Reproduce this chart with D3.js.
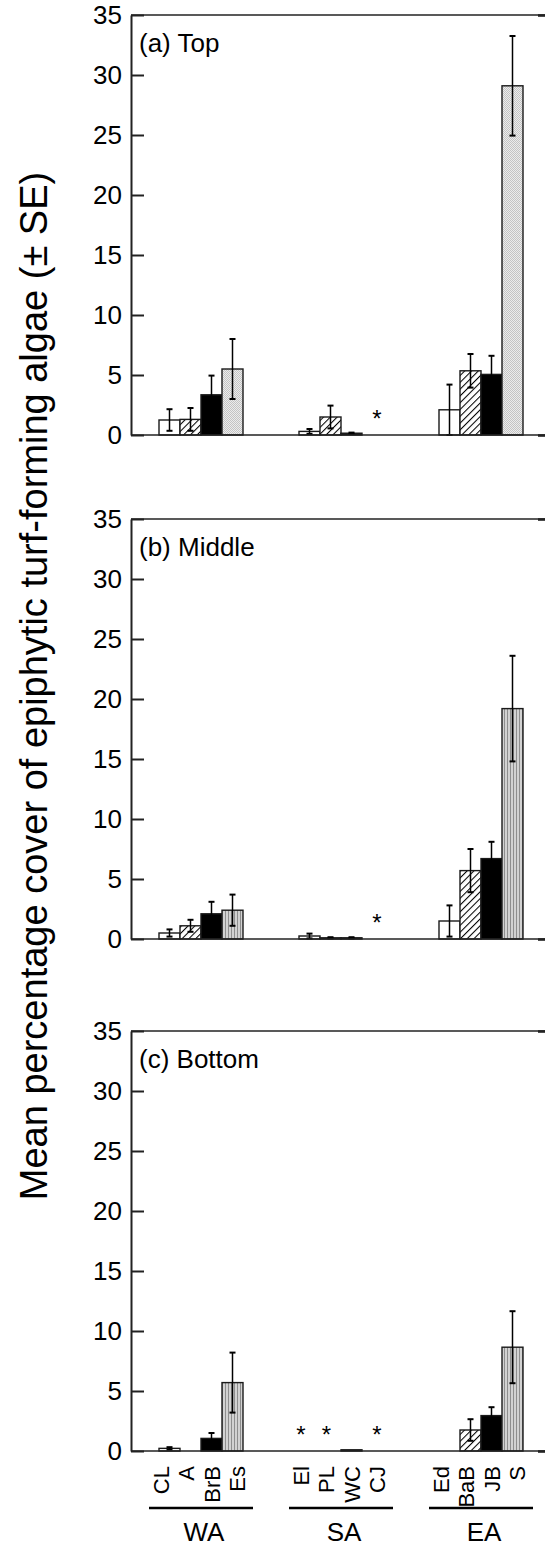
<!DOCTYPE html>
<html>
<head>
<meta charset="utf-8">
<script src="https://cdn.jsdelivr.net/npm/d3@7"></script>
<style>
  body { margin: 0; background: #fff; }
  svg { display: block; }
  text { font-family: "Liberation Sans", Arial, Helvetica, sans-serif; fill: #000; }
</style>
</head>
<body>
<svg id="chart" width="545" height="1549"></svg>
<script>
// Regions and the four sites sampled within each one
const groups = ["WA", "SA", "EA"];
const sites = [
  ["CL", "A", "BrB", "Es"],
  ["El", "PL", "WC", "CJ"],
  ["Ed", "BaB", "JB", "S"]
];

// Canopy position of each panel
const panelLabels = ["(a) Top", "(b) Middle", "(c) Bottom"];

// Mean % cover and SE, in site order (WA, SA, EA)
const topMeans = [1.25, 1.3, 3.35, 5.5,   0.3, 1.5, 0.15, 0,   2.1, 5.35, 5.05, 29.1];
const topSE    = [0.9, 0.95, 1.6, 2.5,    0.2, 0.95, 0.05, 0,  2.1, 1.4, 1.55, 4.15];
const midMeans = [0.5, 1.1, 2.1, 2.4,     0.25, 0.1, 0.1, 0,   1.5, 5.7, 6.7, 19.2];
const midSE    = [0.3, 0.5, 1.0, 1.3,     0.2, 0.05, 0.05, 0,  1.3, 1.8, 1.4, 4.4];
const botMeans = [0.22, 0, 1.05, 5.7,     0, 0, 0.1, 0,        0, 1.75, 2.95, 8.65];
const botSE    = [0.1, 0, 0.45, 2.5,      0, 0, 0, 0,          0, 0.9, 0.7, 3.0];

// Sites not sampled at that canopy position
const topMissing = ["CJ"];
const midMissing = ["CJ"];
const botMissing = ["El", "PL", "CJ"];

const yTicks = [0, 5, 10, 15, 20, 25, 30, 35];
const yTitle = "Mean percentage cover of epiphytic turf-forming algae (\u00B1 SE)";

const panels = [
  { label: panelLabels[0], means: topMeans, se: topSE, missing: topMissing, lastFill: "url(#stipple)" },
  { label: panelLabels[1], means: midMeans, se: midSE, missing: midMissing, lastFill: "url(#vstripe)" },
  { label: panelLabels[2], means: botMeans, se: botSE, missing: botMissing, lastFill: "url(#vstripe)" }
];

const svg = d3.select("#chart");

// ---- fill patterns ----
const defs = svg.append("defs");
const hatch = defs.append("pattern").attr("id", "hatch")
  .attr("patternUnits", "userSpaceOnUse").attr("width", 4.8).attr("height", 4.8)
  .attr("patternTransform", "rotate(45)");
hatch.append("rect").attr("width", 4.8).attr("height", 4.8).attr("fill", "#fff");
hatch.append("line").attr("x1", 0.5).attr("y1", 0).attr("x2", 0.5).attr("y2", 4.8)
  .attr("stroke", "#000").attr("stroke-width", 1.1);

const stip = defs.append("pattern").attr("id", "stipple")
  .attr("patternUnits", "userSpaceOnUse").attr("width", 2).attr("height", 2);
stip.append("rect").attr("width", 2).attr("height", 2).attr("fill", "#ececec");
stip.append("rect").attr("width", 1).attr("height", 1).attr("fill", "#c4c4c4");
stip.append("rect").attr("x", 1).attr("y", 1).attr("width", 1).attr("height", 1).attr("fill", "#c4c4c4");

const vs = defs.append("pattern").attr("id", "vstripe")
  .attr("patternUnits", "userSpaceOnUse").attr("width", 3).attr("height", 3);
vs.append("rect").attr("width", 3).attr("height", 3).attr("fill", "#d2d2d2");
vs.append("rect").attr("width", 1).attr("height", 3).attr("fill", "#8e8e8e");

// ---- layout ----
const plotLeft = 131, plotRight = 551;
const panelTops = [15, 519, 1031];
const panelH = 420;

const x0 = d3.scaleBand().domain(groups).range([plotLeft, plotRight]);
const x1 = d3.scaleBand().domain(d3.range(4)).range([28, 112]);
// positions of the rotated site names (and the asterisks) about each region centre
const xLab = d3.scalePoint().domain(d3.range(4)).range([-40, 36]);

const siteFills = (p) => ["#fff", "url(#hatch)", "#000", p.lastFill];

panels.forEach((p, pi) => {
  const top = panelTops[pi];
  const y = d3.scaleLinear().domain([0, 35]).range([top + panelH, top]);
  const g = svg.append("g");

  const rows = [];
  groups.forEach((grp, gi) => {
    sites[gi].forEach((s, si) => {
      const k = gi * 4 + si;
      rows.push({ grp, gi, site: s, si, mean: p.means[k], se: p.se[k] });
    });
  });

  // bars
  g.selectAll("rect.bar").data(rows).join("rect")
    .attr("class", "bar")
    .attr("x", d => x0(d.grp) + x1(d.si))
    .attr("width", x1.bandwidth())
    .attr("y", d => y(d.mean))
    .attr("height", d => y(0) - y(d.mean))
    .attr("fill", d => siteFills(p)[d.si])
    .attr("stroke", "#1a1a1a").attr("stroke-width", 1.4);

  // error bars
  const eb = rows.filter(d => d.se > 0);
  const cx = d => x0(d.grp) + x1(d.si) + x1.bandwidth() / 2;
  g.selectAll("line.err").data(eb).join("line")
    .attr("x1", cx).attr("x2", cx)
    .attr("y1", d => y(Math.max(0, d.mean - d.se))).attr("y2", d => y(d.mean + d.se))
    .attr("stroke", "#000").attr("stroke-width", 1.5);
  g.selectAll("line.capT").data(eb).join("line")
    .attr("x1", d => cx(d) - 3).attr("x2", d => cx(d) + 3)
    .attr("y1", d => y(d.mean + d.se)).attr("y2", d => y(d.mean + d.se))
    .attr("stroke", "#000").attr("stroke-width", 2);
  g.selectAll("line.capB").data(eb).join("line")
    .attr("x1", d => cx(d) - 3).attr("x2", d => cx(d) + 3)
    .attr("y1", d => y(Math.max(0, d.mean - d.se))).attr("y2", d => y(Math.max(0, d.mean - d.se)))
    .attr("stroke", "#000").attr("stroke-width", 2);

  // asterisks for sites with no data
  const miss = rows.filter(d => p.missing.includes(d.site));
  g.selectAll("text.star").data(miss).join("text")
    .attr("x", d => x0(d.grp) + x0.bandwidth() / 2 + xLab(d.si))
    .attr("y", y(0) - 8)
    .attr("text-anchor", "middle")
    .style("font-size", "24px")
    .text("*");

  // frame: top and bottom lines
  g.append("line").attr("x1", plotLeft).attr("x2", plotRight)
    .attr("y1", y(35)).attr("y2", y(35)).attr("stroke", "#222").attr("stroke-width", 1.6);
  g.append("line").attr("x1", plotLeft).attr("x2", plotRight)
    .attr("y1", y(0)).attr("y2", y(0)).attr("stroke", "#222").attr("stroke-width", 1.6);
  // right-hand frame with its end ticks
  g.append("g").attr("transform", `translate(${plotRight},0)`)
    .call(d3.axisRight(y).tickValues([0, 35]).tickSize(-13).tickFormat(""))
    .call(a => a.selectAll("line, path").attr("stroke", "#222").attr("stroke-width", 2.2));

  // left axis, ticks pointing inward
  const ax = g.append("g").attr("transform", `translate(${plotLeft},0)`)
    .call(d3.axisLeft(y).tickValues(yTicks).tickSize(-13).tickSizeOuter(0).tickPadding(9));
  ax.select(".domain").attr("stroke", "#222").attr("stroke-width", 2);
  ax.selectAll(".tick line").attr("stroke", "#222").attr("stroke-width", 2);
  ax.selectAll(".tick text").attr("fill", "#000")
    .style("font-size", "26px")
    .style("font-family", "'Liberation Sans', Arial, sans-serif");

  // panel label
  g.append("text").attr("x", 139).attr("y", top + 37)
    .style("font-size", "26px").text(p.label);

  // site names and region labels under the last panel
  if (pi === 2) {
    rows.forEach(d => {
      const lx = x0(d.grp) + x0.bandwidth() / 2 + xLab(d.si);
      g.append("text")
        .attr("transform", `translate(${lx},${y(0) + 15}) rotate(-90)`)
        .attr("text-anchor", "end")
        .attr("dy", "0.36em")
        .style("font-size", "22px")
        .text(d.site);
    });
    groups.forEach(grp => {
      const gc = x0(grp) + x0.bandwidth() / 2;
      g.append("line").attr("x1", gc - 52).attr("x2", gc + 52)
        .attr("y1", 1508).attr("y2", 1508)
        .attr("stroke", "#000").attr("stroke-width", 2.6);
      g.append("text").attr("x", gc + 3).attr("y", 1541)
        .attr("text-anchor", "middle")
        .style("font-size", "26px").text(grp);
    });
  }
});

// shared y-axis title
svg.append("text")
  .attr("transform", "translate(47,686) rotate(-90)")
  .attr("text-anchor", "middle")
  .style("font-size", "38px")
  .text(yTitle);
</script>
</body>
</html>
